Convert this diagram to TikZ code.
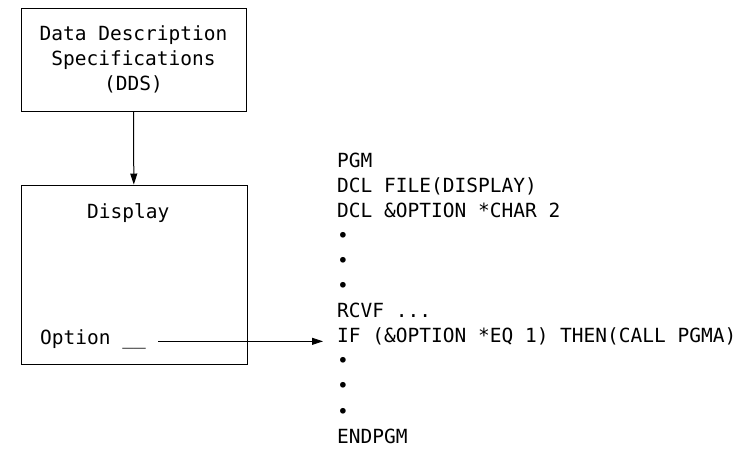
\documentclass[tikz,border=0pt]{standalone}
\usepackage{fontspec}
\setmonofont{DejaVu Sans Mono}
\usetikzlibrary{arrows.meta}

\tikzset{
  code/.style={anchor=base west, inner sep=0pt, font=\ttfamily\fontsize{19.5}{25}\selectfont},
  panel/.style={draw, line width=1pt, inner sep=0pt},
}

\begin{document}
\begin{tikzpicture}[x=1pt, y=-1pt, >={Triangle[length=11pt,width=7pt]}]
  \useasboundingbox (0,0) rectangle (744,448);

  % left side: DDS and the display
  \node[panel, minimum width=225pt, minimum height=103pt, align=center,
        font=\ttfamily\fontsize{19.5}{25}\selectfont] (dds) at (133.5,59.5)
        {Data Description\\Specifications\\(DDS)};
  \node[panel, minimum width=226pt, minimum height=179pt] (display) at (134,274.5) {};
  \node[code] (disptitle) at (87,218.5) {Display};
  \node[code] (option) at (40,344.5) {Option \_\_};

  % right side: the CL program
  \foreach [count=\i] \txt in {PGM, DCL FILE(DISPLAY), DCL \&OPTION *CHAR 2,
      \textbullet, \textbullet, \textbullet, {RCVF .{}..},
      IF (\&OPTION *EQ 1) THEN(CALL PGMA),
      \textbullet, \textbullet, \textbullet, ENDPGM}
    \node[code] (code\i) at (337,{141.9+25.1*\i}) {\txt};

  \draw[->, line width=1pt] (dds) -- (display);
  \draw[->, line width=0.8pt, shorten <=12pt, shorten >=14pt]
    ([yshift=1pt]option.mid east) -- ([yshift=1pt]option.mid east -| code8.west);
\end{tikzpicture}
\end{document}
